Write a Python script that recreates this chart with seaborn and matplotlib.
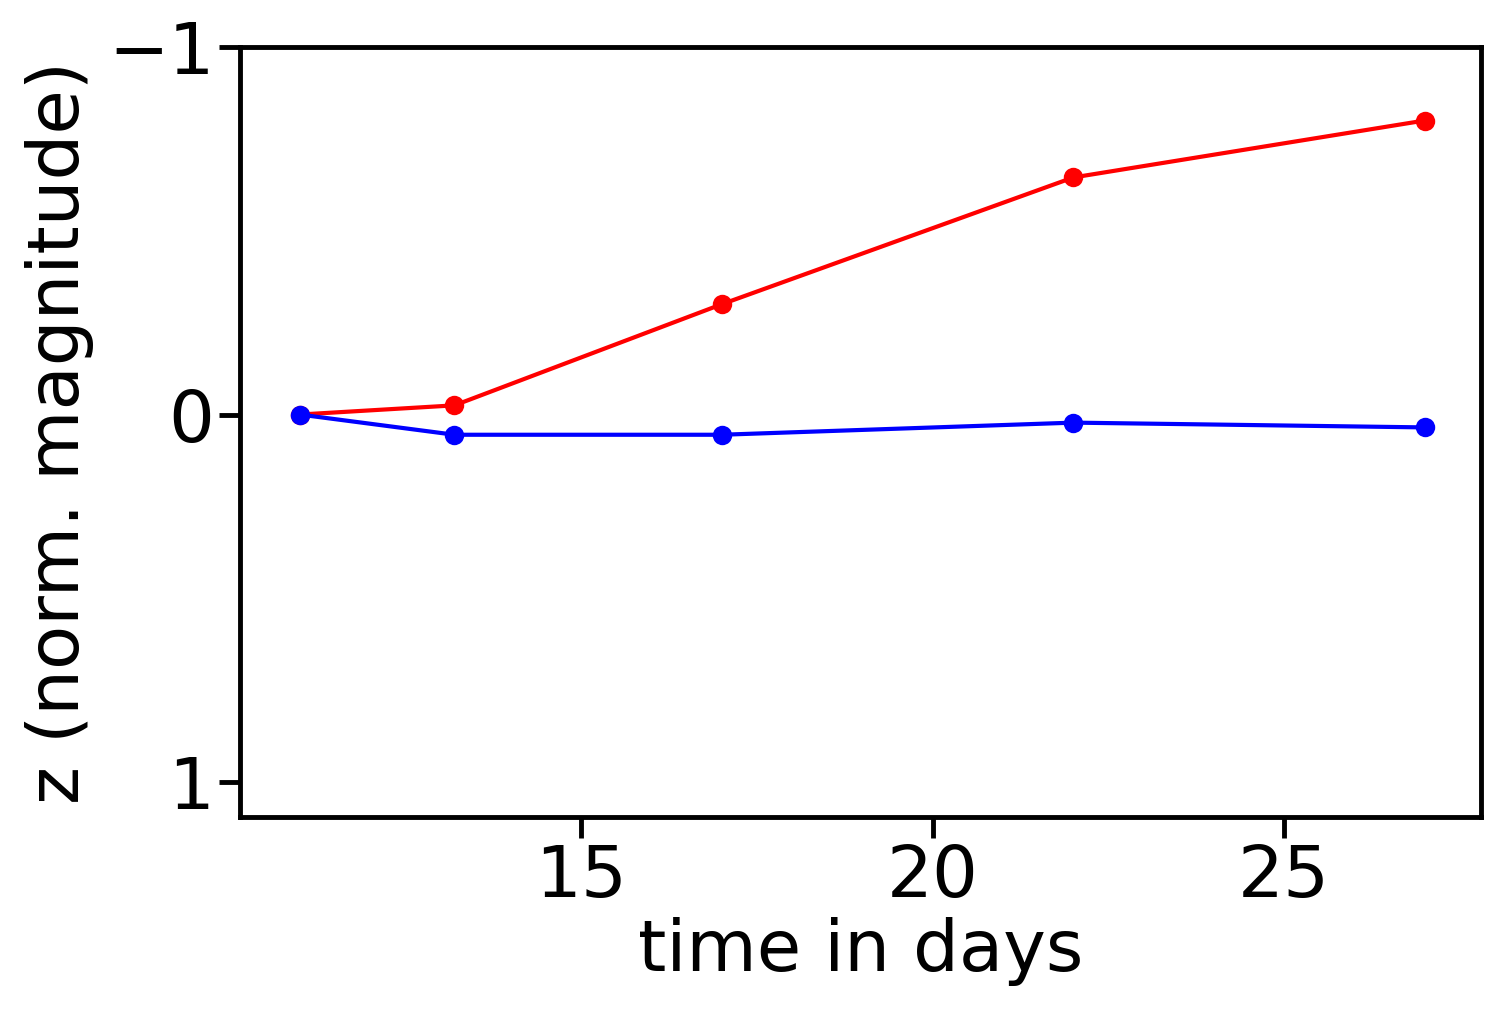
import matplotlib
matplotlib.use("Agg")
import matplotlib.pyplot as plt
import seaborn as sns
import pandas as pd

days = [11.0, 13.2, 17.0, 22.0, 27.0]
red_z = [0.0, -0.025, -0.30, -0.645, -0.80]
blue_z = [0.0, 0.055, 0.055, 0.022, 0.035]

sns.set_style("ticks", {"axes.edgecolor": "black", "text.color": "black",
                        "xtick.color": "black", "ytick.color": "black",
                        "axes.labelcolor": "black"})
fig = plt.figure(figsize=(15.04, 10.22), dpi=100)
ax = fig.add_axes([240/1504, 1-817/1022, (1481-240)/1504, (817-47)/1022])
for vals, col in [(red_z, "red"), (blue_z, "blue")]:
    df = pd.DataFrame({"t": days, "z": vals})
    sns.lineplot(data=df, x="t", y="z", color=col, marker="o", markersize=14,
                 markeredgewidth=0, linewidth=3, ax=ax)
ax.set_xlim(10.15, 27.8)
ax.set_ylim(1.095, -1)
ax.set_yticks([-1, 0, 1])
ax.set_xticks([15, 20, 25])
ax.set_yticklabels(["\u22121", "0", "1"])
ax.set_xlabel("time in days", fontsize=52, labelpad=4)
ax.set_ylabel("z (norm. magnitude)", fontsize=52, labelpad=10)
ax.tick_params(labelsize=52, length=15, width=3.5, colors="black")
for s in ax.spines.values():
    s.set_linewidth(3.5)
fig.savefig("out.png", dpi=100)
